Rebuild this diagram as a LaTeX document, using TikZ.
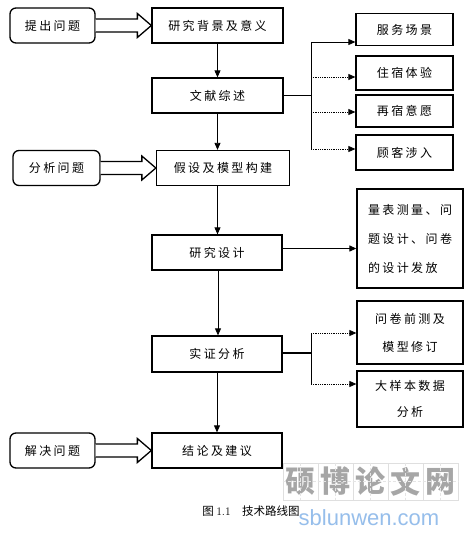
\documentclass[tikz,border=0pt]{standalone}
\usepackage{fontspec}
\newfontfamily\cjk[LetterSpace=20]{Noto Sans CJK SC}
\newfontfamily\cjkplain{Noto Sans CJK SC}
\newfontfamily\wmfont{Liberation Sans}
\usetikzlibrary{arrows.meta,calc}
\definecolor{wmblue}{RGB}{150,190,235}
\tikzset{
  box/.style={draw, line width=1.3pt, inner sep=0pt, align=center,
    font={\cjk\fontsize{12}{28}\selectfont}},
  sidebox/.style={box, minimum width=85pt, minimum height=35pt, rounded corners=6pt},
  mainbox/.style={box, minimum width=131pt, minimum height=35pt},
  rbox/.style={box, minimum width=97pt},
  arr/.style={-{Triangle[length=7pt,width=6pt]}, line width=0.8pt},
  dotarr/.style={arr, densely dotted},
  fat/.style={draw, line width=1.3pt, fill=white, line join=miter},
  wmcell/.style={draw=gray!25, line width=0.6pt, minimum width=35pt, minimum height=37pt, inner sep=0pt,
    text=gray!70, font={\cjkplain\bfseries\fontsize{30}{31}\selectfont}}
}
\newcommand{\fatarrow}[2]{%
  \draw[fat] ($(#1.east)+(0,6.5)$) -- ($(#2.west)+(-14,6.5)$) -- ($(#2.west)+(-14,12)$)
    -- (#2.west) -- ($(#2.west)+(-14,-12)$) -- ($(#2.west)+(-14,-6.5)$) -- ($(#1.east)+(0,-6.5)$);}
\begin{document}
\begin{tikzpicture}[x=1pt,y=-1pt]
\fill[white] (0,0) rectangle (472,535);
\useasboundingbox (0,0) rectangle (472,535);

% left side boxes
\node[sidebox] (q1) at (52.5,25.5) {提出问题};
\node[sidebox, minimum width=87pt] (q2) at (56.5,168) {分析问题};
\node[sidebox] (q3) at (52.5,450.5) {解决问题};

% main column
\node[mainbox] (b1) at (217.5,25.5) {研究背景及意义};
\node[mainbox] (b2) at (217.5,95.5) {文献综述};
\node[mainbox, minimum width=133pt] (b3) at (223,168) {假设及模型构建};
\node[mainbox, minimum width=130pt] (b4) at (217,252.5) {研究设计};
\node[mainbox, minimum width=130pt, minimum height=36pt] (b5) at (217,354) {实证分析};
\node[mainbox, minimum width=130pt] (b6) at (217,450.5) {结论及建议};

% right boxes
\node[rbox, minimum height=32pt] (r1) at (404.5,29.5) {服务场景};
\node[rbox, minimum height=34pt] (r2) at (404.5,73) {住宿体验};
\node[rbox, minimum height=32pt] (r3) at (404.5,111) {再宿意愿};
\node[rbox, minimum height=35pt] (r4) at (404.5,152.5) {顾客涉入};
\node[box, minimum width=106pt, minimum height=99pt, align=left,
      font={\cjk\fontsize{12}{29}\selectfont}] (r5) at (410,238.5) {量表测量、问\\题设计、问卷\\的设计发放};
\node[box, minimum width=106pt, minimum height=63pt] (r6) at (410,332.5) {问卷前测及\\模型修订};
\node[box, minimum width=106pt, minimum height=56pt,
      font={\cjk\fontsize{12}{26}\selectfont}] (r7) at (410,399) {大样本数据\\分析};

% fat arrows
\fatarrow{q1}{b1}
\fatarrow{q2}{b3}
\fatarrow{q3}{b6}

% vertical flow
\draw[arr] (b1.south) -- (b1.south |- b2.north);
\draw[arr] (b2.south) -- (b2.south |- b3.north);
\draw[arr] (b2.south |- b3.south) -- (b2.south |- b4.north);
\draw[arr] ($(b4.south)+(1,0)$) -- ($(b4.south |- b5.north)+(1,0)$);
\draw[arr] (b5.south) -- (b5.south |- b6.north);

% literature branches
\coordinate (t1) at (311,42);
\coordinate (t2) at (311,77);
\coordinate (t3) at (311,112);
\coordinate (t4) at (311,149);
\draw[line width=1.2pt] (b2.east) -- (b2.east -| t1);
\draw[line width=0.8pt] (t1) -- (t4);
\draw[arr] (t1) -- (t1 -| r1.west);
\draw[dotarr] (t2) -- (t2 -| r2.west);
\draw[dotarr] (t3) -- (t3 -| r3.west);
\draw[dotarr] (t4) -- (t4 -| r4.west);

% research design
\draw[arr, line width=1.2pt] ($(b4.east)+(0,-4)$) -- ($(b4.east -| r5.west)+(0,-4)$);

% empirical branches
\coordinate (s1) at (311,333);
\coordinate (s2) at (311,384);
\draw[line width=1.2pt] ($(b5.east)+(0,-1)$) -- ($(b5.east -| s1)+(0,-1)$);
\draw[line width=0.8pt] (s1) -- (s2);
\draw[dotarr] (s1) -- (s1 -| r6.west);
\draw[dotarr] (s2) -- (s2 -| r7.west);

% caption
\node (cap) at (251,511) {\cjkplain\fontsize{11.5}{13}\selectfont 图 {\rmfamily 1.1}\quad 技术路线图};

% watermark
\foreach \ch [count=\i from 0] in {硕,博,论,文,网} {
  \node[wmcell] (w\i) at (300.5+35*\i,481.5) {\ch};
  \draw[gray!20, densely dashed, line width=0.4pt] (w\i.north) -- (w\i.south) (w\i.west) -- (w\i.east);
}
\node[text=wmblue, font={\wmfont\fontsize{22}{24}\selectfont}, inner sep=0pt] (wm) at (369,518) {sblunwen.com};
\end{tikzpicture}
\end{document}
